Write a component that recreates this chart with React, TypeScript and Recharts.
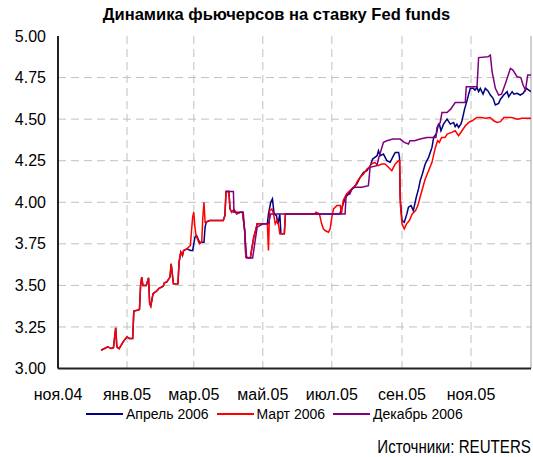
import React from "react";
import {
  LineChart,
  Line,
  XAxis,
  YAxis,
  CartesianGrid,
  ReferenceLine,
} from "recharts";

// x = days since 1 Nov 2004
const monthTicks = [0, 61, 120, 181, 242, 304, 365];
const monthLabels = ["ноя.04", "янв.05", "мар.05", "май.05", "июл.05", "сен.05", "ноя.05"];
const yTicks = [3, 3.25, 3.5, 3.75, 4, 4.25, 4.5, 4.75, 5];

const marchDays = [
  38, 44, 47, 49, 51, 52, 54, 58, 61, 63, 66, 67, 70, 72, 73, 74, 75, 78, 80, 81, 82, 84, 87, 89, 93, 94, 96, 99,
  100, 102, 106, 107, 108.5, 110, 111, 114, 117, 118, 119, 120, 121, 122, 125, 127, 128, 129, 130, 134, 146, 147.5,
  148.5, 151, 152, 153.5, 155.5, 158, 161, 163, 165, 166, 170, 171, 173, 175, 176, 185, 186, 187, 189, 190.5, 192,
  193.5, 195, 196, 200, 201, 227, 228, 231, 233, 234.5, 236, 239, 240.5, 242, 243.5, 246.5, 249.5, 250.5, 252, 255,
  258, 261, 263, 264, 267, 270, 273, 275, 277, 280, 283, 286, 289, 292, 295, 298, 301, 302, 302.5, 304, 306, 308,
  310.5, 313, 316, 318, 320, 322, 324.5, 327.5, 330.5, 333.5, 335.5, 337, 339, 342, 344, 348, 351, 354, 357, 360,
  363, 366, 370, 374, 378, 382, 385, 388, 391, 394, 401, 406, 410, 418,
];
const marchVals = [
  3.11, 3.13, 3.12, 3.125, 3.245, 3.13, 3.12, 3.165, 3.19, 3.18, 3.18, 3.345, 3.35, 3.355, 3.5, 3.55, 3.5, 3.5, 3.545,
  3.39, 3.375, 3.45, 3.465, 3.48, 3.495, 3.515, 3.52, 3.55, 3.63, 3.51, 3.51, 3.64, 3.7, 3.68, 3.71, 3.72, 3.74, 3.83,
  3.91, 3.94, 3.85, 3.8, 3.75, 3.76, 3.91, 4.0, 3.88, 3.89, 3.89, 3.92, 4.065, 4.065, 3.96, 3.94, 3.955, 3.93, 3.94,
  3.94, 3.83, 3.67, 3.665, 3.71, 3.79, 3.84, 3.87, 3.87, 3.71, 3.95, 3.96, 3.93, 3.87, 3.89, 3.86, 3.81, 3.81, 3.93,
  3.93, 3.94, 3.93, 3.87, 3.84, 3.83, 3.82, 3.84, 3.91, 3.96, 3.98, 3.98, 3.93, 4.01, 4.05, 4.07, 4.09, 4.1, 4.12,
  4.15, 4.17, 4.2, 4.21, 4.23, 4.24, 4.22, 4.23, 4.23, 4.21, 4.19, 4.23, 4.25, 4.25, 3.99, 3.87, 3.84, 3.87, 3.89,
  3.93, 3.95, 3.98, 4.03, 4.08, 4.14, 4.19, 4.24, 4.33, 4.37, 4.36, 4.39, 4.39, 4.41, 4.42, 4.43, 4.4, 4.43, 4.46,
  4.48, 4.49, 4.51, 4.51, 4.505, 4.51, 4.49, 4.48, 4.485, 4.51, 4.51, 4.5, 4.505, 4.505,
];

const aprilDays = [
  38, 44, 47, 49, 51, 52, 54, 58, 61, 63, 66, 67, 70, 72, 73, 74, 75, 78, 80, 81, 82, 84, 87, 89, 93, 94, 96, 99,
  100, 102, 106, 107, 108.5, 110, 111, 114, 117, 119, 121, 122.5, 125, 129, 130, 131, 134, 146, 147.5, 148.5, 151,
  152, 153.5, 155.5, 158, 161, 163, 165, 166, 170, 171, 173, 175, 176, 185, 186, 188, 189.5, 191, 193, 194.5, 196,
  197, 200, 201, 249, 251, 253.5, 256.5, 259, 262.5, 264, 267, 270, 273, 276, 278, 280, 282, 283.2, 284.7, 287.6,
  290.6, 293.5, 296.5, 298, 301, 301.8, 302.4, 304, 306, 308.3, 309.7, 312, 314, 316.6, 318.6, 320.1, 322, 324.5,
  327.5, 330.5, 332, 334.3, 336.3, 337, 338.4, 340.7, 343.8, 346.7, 349.6, 351, 352.5, 354, 356, 357, 359.3, 361.4,
  362.9, 364.4, 367, 368.5, 370.3, 371.7, 373.2, 375.6, 377.6, 380, 382.1, 384.5, 386.5, 389.4, 391, 393.9, 396.9,
  398.3, 401.3, 403, 405.7, 408.5, 411, 414, 416, 418,
];
const aprilVals = [
  3.11, 3.13, 3.12, 3.125, 3.245, 3.13, 3.12, 3.165, 3.19, 3.18, 3.18, 3.345, 3.35, 3.355, 3.5, 3.55, 3.5, 3.5, 3.545,
  3.39, 3.375, 3.45, 3.465, 3.48, 3.495, 3.515, 3.52, 3.55, 3.63, 3.51, 3.51, 3.64, 3.7, 3.68, 3.71, 3.72, 3.71, 3.71,
  3.79, 3.8, 3.76, 3.76, 3.85, 3.88, 3.89, 3.89, 3.92, 4.065, 4.065, 3.96, 3.94, 3.955, 3.93, 3.94, 3.94, 3.83, 3.67,
  3.665, 3.71, 3.79, 3.84, 3.87, 3.87, 3.93, 4.0, 4.02, 3.93, 3.92, 3.87, 3.93, 3.81, 3.81, 3.93, 3.93, 3.97, 4.02,
  4.05, 4.07, 4.1, 4.11, 4.15, 4.18, 4.19, 4.22, 4.26, 4.27, 4.28, 4.31, 4.28, 4.29, 4.25, 4.24, 4.28, 4.3, 4.3,
  4.27, 4.03, 3.89, 3.88, 3.93, 3.97, 3.98, 3.95, 4.03, 4.08, 4.13, 4.17, 4.23, 4.27, 4.33, 4.39, 4.41, 4.47, 4.47,
  4.43, 4.47, 4.5, 4.47, 4.48, 4.455, 4.47, 4.45, 4.47, 4.49, 4.56, 4.61, 4.65, 4.685, 4.685, 4.675, 4.69, 4.665,
  4.685, 4.65, 4.685, 4.67, 4.645, 4.625, 4.585, 4.595, 4.62, 4.645, 4.665, 4.635, 4.665, 4.65, 4.655, 4.645, 4.655,
  4.685, 4.675, 4.665,
];

const decemberDays = [
  148.5, 155, 155.5, 163.7, 166.7, 172, 176, 181, 186, 188, 253.7, 254.6, 258, 259.6, 262.6, 268.5, 274.3, 275.8,
  281.8, 283.2, 287.6, 290.6, 296, 302.4, 306, 309.7, 311, 315, 320, 326, 334, 334.9, 337.8, 339.3, 343.8, 347, 351,
  359.9, 360.8, 370.3, 371.7, 380, 382.1, 383.6, 386.5, 389.4, 392, 395.4, 399.8, 402, 405.7, 409, 411, 413.1, 415.1,
  418,
];
const decemberVals = [
  4.065, 4.065, 3.94, 3.94, 3.665, 3.665, 3.85, 3.87, 3.87, 3.93, 3.93, 4.04, 4.05, 4.08, 4.09, 4.09, 4.1, 4.21, 4.22,
  4.26, 4.36, 4.37, 4.38, 4.38, 4.36, 4.35, 4.37, 4.37, 4.38, 4.39, 4.39, 4.45, 4.48, 4.54, 4.54, 4.56, 4.6, 4.6,
  4.695, 4.695, 4.87, 4.875, 4.885, 4.785, 4.685, 4.645, 4.65, 4.715, 4.805, 4.795, 4.755, 4.75, 4.705, 4.675,
  4.765, 4.765,
];

const zip = (days: number[], vals: number[]) => days.map((d, i) => ({ d, v: vals[i] }));

const series = [
  { name: "Апрель 2006", color: "#000080", data: zip(aprilDays, aprilVals) },
  { name: "Март 2006", color: "#ff0000", data: zip(marchDays, marchVals) },
  { name: "Декабрь 2006", color: "#800080", data: zip(decemberDays, decemberVals) },
];

const font = "'Liberation Sans', Arial, sans-serif";

export default function App() {
  return (
    <div style={{ position: "absolute", left: 0, top: 0, width: 533, height: 457, background: "#fff", fontFamily: font }}>
      <div
        style={{
          position: "absolute",
          left: 10,
          top: 5,
          width: 533,
          textAlign: "center",
          fontWeight: "bold",
          fontSize: 16.5,
          color: "#000",
        }}
      >
        Динамика фьючерсов на ставку Fed funds
      </div>
      <LineChart width={533} height={457} data={[]} margin={{ top: 36, right: 2, bottom: 58.5, left: 0 }}>
        <CartesianGrid
          stroke="#c0c0c0"
          strokeDasharray="8 5"
          horizontalValues={[3.25, 3.5, 3.75, 4, 4.25, 4.5, 4.75]}
          verticalValues={monthTicks.slice(1)}
        />
        <XAxis
          dataKey="d"
          type="number"
          domain={[0, 418]}
          ticks={monthTicks}
          tickFormatter={(v: number) => monthLabels[monthTicks.indexOf(v)]}
          tickLine={false}
          tickSize={0}
          tickMargin={20}
          axisLine={{ stroke: "#222", strokeWidth: 2 }}
          tick={{ fill: "#000", fontSize: 16, fontFamily: font }}
          interval={0}
          allowDataOverflow
        />
        <YAxis
          type="number"
          domain={[3, 5]}
          ticks={yTicks}
          tickFormatter={(v: number) => v.toFixed(2)}
          tickLine={false}
          tickSize={0}
          tickMargin={12}
          width={58}
          axisLine={{ stroke: "#222", strokeWidth: 2 }}
          tick={{ fill: "#000", fontSize: 16, fontFamily: font }}
          interval={0}
        />
        <ReferenceLine x={418} stroke="#a0a0a0" strokeWidth={1} />
        {series.map((s) => (
          <Line
            key={s.name}
            data={s.data}
            dataKey="v"
            name={s.name}
            type="linear"
            stroke={s.color}
            strokeWidth={1.5}
            dot={false}
            isAnimationActive={false}
          />
        ))}
      </LineChart>
      <div
        style={{
          position: "absolute",
          left: 86,
          top: 406,
          display: "flex",
          alignItems: "center",
          fontSize: 14,
          color: "#000",
          whiteSpace: "nowrap",
        }}
      >
        {series.map((s) => (
          <div key={s.name} style={{ display: "flex", alignItems: "center", marginRight: 8 }}>
            <div style={{ width: 37, height: 2, background: s.color, marginRight: 3 }} />
            <span>{s.name}</span>
          </div>
        ))}
      </div>
      <div
        style={{
          position: "absolute",
          right: 2,
          top: 437,
          fontSize: 18,
          color: "#000",
          whiteSpace: "nowrap",
          transform: "scaleX(0.84)",
          transformOrigin: "right center",
        }}
      >
        Источники: REUTERS
      </div>
    </div>
  );
}
